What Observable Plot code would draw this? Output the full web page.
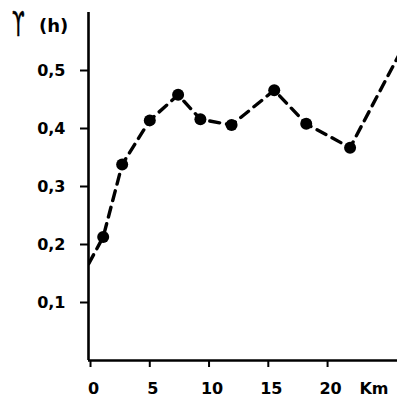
<!DOCTYPE html>
<html><head><meta charset="utf-8">
<script src="https://cdn.jsdelivr.net/npm/d3@7"></script>
<script src="https://cdn.jsdelivr.net/npm/@observablehq/plot@0.6"></script>
<style>body{margin:0;background:#fff} #chart{width:397px;height:398px}</style>
</head><body><div id="chart"></div>
<script>
// distance (km) and gamma (h); first and last are line ends without a marker
const km       = [-0.15, 1.07, 2.67, 5.0, 7.39, 9.27, 11.9, 15.5, 18.2, 21.9, 26.0];
const gamma    = [0.167, 0.213, 0.338, 0.414, 0.458, 0.416, 0.406, 0.466, 0.408, 0.367, 0.526];
const measured = [false, true, true, true, true, true, true, true, true, true, false];
const xTicks = [0, 5, 10, 15, 20];
const yTicks = [0.1, 0.2, 0.3, 0.4, 0.5];
const xLabel = "Km";
const yLabelSymbol = "ϒ";
const yLabelUnit = "(h)";
const xDomain = [-0.17, 25.9];
const yDomain = [0, 0.6];

const fmt = d => d.toFixed(1).replace(".", ",");
const data = km.map((k, i) => ({km: k, g: gamma[i], m: measured[i]}));

const plot = Plot.plot({
  width: 397, height: 398,
  marginLeft: 88, marginRight: 0, marginTop: 12, marginBottom: 38,
  style: {fontFamily: "DejaVu Sans", fontSize: "16px", fontWeight: "bold", color: "#000", background: "#fff"},
  x: {domain: xDomain},
  y: {domain: yDomain},
  marks: [
    Plot.line(data, {x: "km", y: "g", stroke: "#000", strokeWidth: 3.4, strokeDasharray: "10,7", clip: true}),
    Plot.dot(data.filter(d => d.m), {x: "km", y: "g", r: 6, fill: "#000"}),
    Plot.axisY(yTicks, {tickSize: 8, tickPadding: 15, tickFormat: fmt, strokeWidth: 2, label: null, fontWeight: "bold"}),
    Plot.axisX(xTicks, {tickSize: 7, tickFormat: () => "", strokeWidth: 2, label: null}),
    Plot.axisX(xTicks, {tickSize: 0, tickPadding: 22, dx: 3, fontWeight: "bold", label: null}),
    Plot.text([xLabel], {frameAnchor: "bottom-right", dx: -9, dy: 28, lineAnchor: "middle", textAnchor: "end", fontWeight: "bold", fontSize: 16}),
    Plot.ruleX([xDomain[0]], {strokeWidth: 2.6}),
    Plot.ruleY([yDomain[0]], {strokeWidth: 2.6})
  ]
});

const svg = d3.select(plot);
svg.append("text").attr("transform", "translate(12,36) scale(0.55,1)")
  .attr("text-anchor", "start").attr("fill", "#000")
  .attr("font-size", 33).attr("font-weight", "normal").attr("stroke", "#000").attr("stroke-width", 0.4)
  .text(yLabelSymbol);
svg.append("text").attr("x", 39).attr("y", 32).attr("text-anchor", "start").attr("fill", "#000")
  .attr("font-size", 18).attr("font-weight", "bold").text(yLabelUnit);

document.getElementById("chart").append(plot);
</script></body></html>
